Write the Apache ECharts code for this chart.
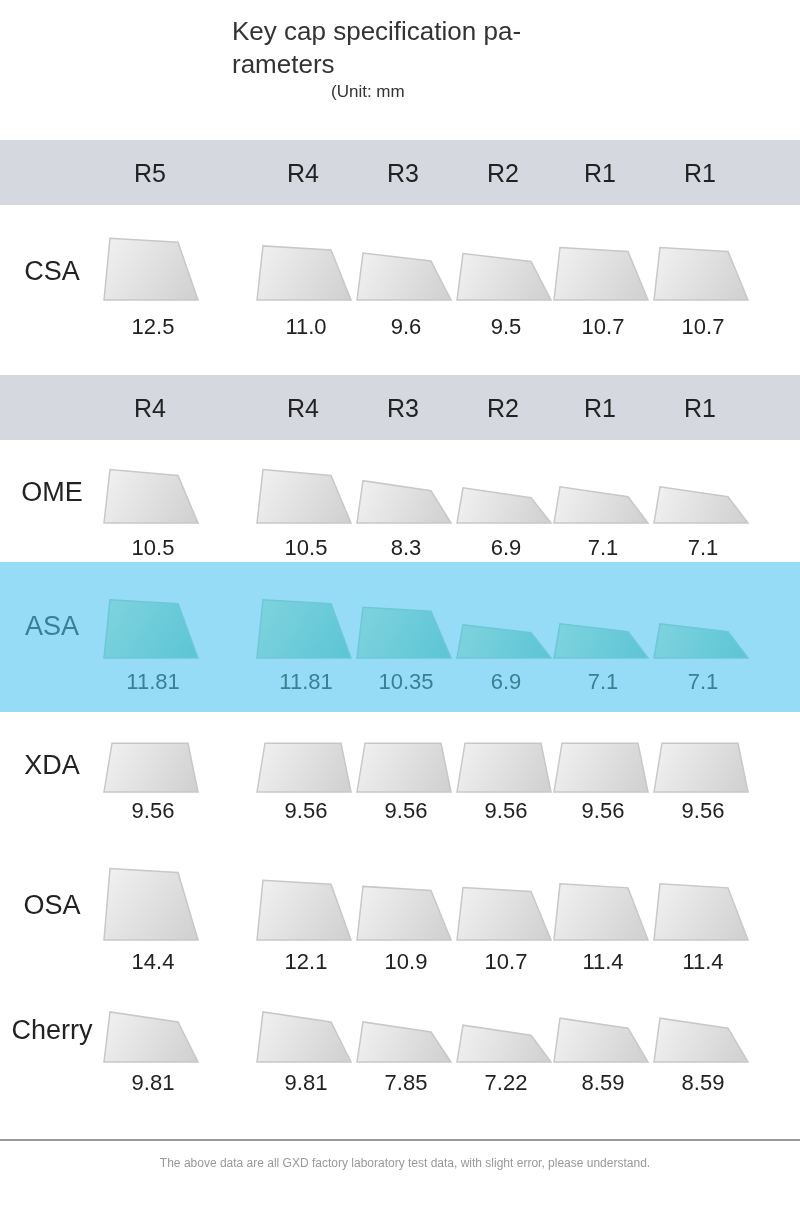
<!DOCTYPE html>
<html><head><meta charset="utf-8">
<script src="https://cdn.jsdelivr.net/npm/echarts@6/dist/echarts.min.js"></script>
<style>html,body{margin:0;background:#fff}#c{width:800px;height:1228px}</style>
</head><body><div id="c"></div>
<script>
const profiles = ['CSA','OME','ASA','XDA','OSA','Cherry'];
const headersCSA = ['R5','R4','R3','R2','R1','R1'];
const headersOME = ['R4','R4','R3','R2','R1','R1'];
const heightsCSA = [12.5,11.0,9.6,9.5,10.7,10.7];
const heightsOME = [10.5,10.5,8.3,6.9,7.1,7.1];
const heightsASA = [11.81,11.81,10.35,6.9,7.1,7.1];
const heightsXDA = [9.56,9.56,9.56,9.56,9.56,9.56];
const heightsOSA = [14.4,12.1,10.9,10.7,11.4,11.4];
const heightsCherry = [9.81,9.81,7.85,7.22,8.59,8.59];
const labelsASA = ['11.81','11.81','10.35','6.9','7.1','7.1'];
const labelsCSA = ['12.5','11.0','9.6','9.5','10.7','10.7'];

// layout (not data)
const colPos = [0,1.53,2.53,3.53,4.5,5.5];
const rowBase = [300,523,658,792,940,1062];
const rowNameY = [273,494,628,767,907,1032];
const numY = [328,549,683,812,963,1084];
const allH = [heightsCSA,heightsOME,heightsASA,heightsXDA,heightsOSA,heightsCherry];
const allL = [labelsCSA,heightsOME.map(v=>v.toFixed(1)),labelsASA,heightsXDA.map(String),heightsOSA.map(v=>v.toFixed(1)),heightsCherry.map(String)];

const keyData=[], numData=[];
allH.forEach((arr,r)=>arr.forEach((h,c)=>{keyData.push([colPos[c],rowBase[r],h,r]);numData.push([colPos[c],numY[r],allL[r][c],r]);}));
const hdrData=[];
headersCSA.forEach((t,c)=>hdrData.push([colPos[c],175,t]));
headersOME.forEach((t,c)=>hdrData.push([colPos[c],410,t]));

const chart=echarts.init(document.getElementById('c'));
chart.setOption({
  animation:false,
  grid:{left:0,right:0,top:0,bottom:0},
  xAxis:{type:'value',min:-1.5,max:6.5,show:false},
  yAxis:{type:'value',min:0,max:1228,inverse:true,show:false},
  graphic:[
    {type:'rect',shape:{x:0,y:140,width:800,height:65},style:{fill:'#d5d8df'}},
    {type:'rect',shape:{x:0,y:375,width:800,height:65},style:{fill:'#d5d8df'}},
    {type:'rect',shape:{x:0,y:562,width:800,height:150},style:{fill:'#97dcf6'}},
    {type:'rect',shape:{x:0,y:1139,width:800,height:2},style:{fill:'#999'}},
    {type:'text',x:232,y:16,style:{text:'Key cap specification pa-\nrameters',font:'26px "Liberation Sans", Arial',fill:'#333',lineHeight:33}},
    {type:'text',x:331,y:84,style:{text:'(Unit: mm',font:'17px "Liberation Sans", Arial',fill:'#333'}},
    {type:'text',x:405,y:1158,style:{text:'The above data are all GXD factory laboratory test data, with slight error, please understand.',font:'12px "Liberation Sans", Arial',fill:'#999',align:'center'}},
    ...profiles.map((p,i)=>({type:'text',x:52,y:rowNameY[i],style:{text:p,font:'27px "Liberation Sans", Arial',fill:i===2?'#3a7f93':'#222',align:'center',verticalAlign:'middle'}}))
  ],
  series:[
    {type:'custom',data:keyData,renderItem:(params,api)=>{
      const p=api.coord([api.value(0),api.value(1)]);
      const h=api.value(2)*5.1, r=api.value(3);
      const x=p[0], b=p[1];
      const tilt = r===3?0:(api.value(2)>10?6:10);
      const pts=[[x-46,b],[x-40,b-h+ (r===1||r===5?0:2)],[x+28,b-h+tilt],[x+48,b]];
      if(r===3){pts.splice(1,2,[x-38,b-h],[x+38,b-h]);}
      const asa=r===2;
      return {type:'polygon',shape:{points:pts},style:{
        fill:new echarts.graphic.LinearGradient(0,0,1,1,asa?[{offset:0,color:'#7fd4df'},{offset:1,color:'#5cc4d3'}]:[{offset:0,color:'#f2f2f2'},{offset:1,color:'#cfcfcf'}]),
        stroke:asa?'#6cc8d6':'#c8c8c8',lineWidth:1.5}};
    }},
    {type:'custom',data:numData,renderItem:(params,api)=>{
      const p=api.coord([api.value(0),api.value(1)]);
      return {type:'text',x:p[0]+3,y:p[1],style:{text:numData[params.dataIndex][2],font:'22px "Liberation Sans", Arial',fill:numData[params.dataIndex][3]===2?'#3a7f93':'#222',align:'center',verticalAlign:'middle'}};
    }},
    {type:'custom',data:hdrData,renderItem:(params,api)=>{
      const p=api.coord([api.value(0),api.value(1)]);
      return {type:'text',x:p[0],y:p[1],style:{text:hdrData[params.dataIndex][2],font:'25px "Liberation Sans", Arial',fill:'#222',align:'center',verticalAlign:'middle'}};
    }}
  ]
});
</script></body></html>
